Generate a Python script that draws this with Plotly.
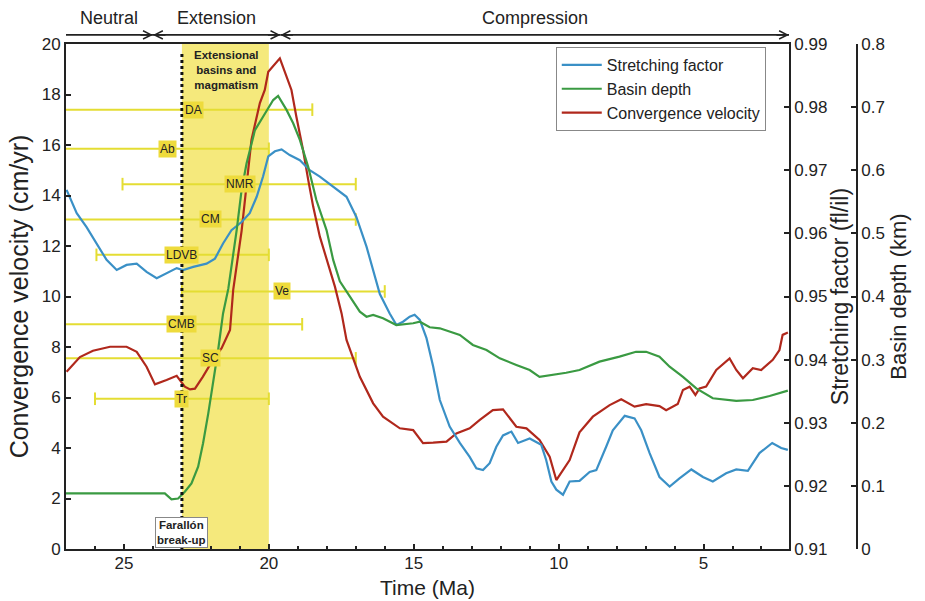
import plotly.graph_objects as go

# ---------------- data ----------------
# Stretching factor (fl/il) vs time (Ma)
sf_t = [26.98, 26.63, 26.29, 25.94, 25.60, 25.25, 24.91, 24.56, 24.22, 23.87, 23.53, 23.18, 22.96,
        22.61, 22.15, 21.86, 21.58, 21.29, 20.94, 20.66, 20.42, 20.20, 20.02, 19.79, 19.56, 19.28,
        18.93, 18.59, 18.24, 17.78, 17.32, 16.98, 16.63, 16.17, 15.83, 15.60, 15.37, 15.14, 14.97,
        14.79, 14.56, 14.33, 14.10, 13.76, 13.41, 13.07, 12.84, 12.61, 12.38, 12.15, 11.92, 11.63,
        11.40, 11.00, 10.60, 10.43, 10.25, 10.08, 9.85, 9.62, 9.28, 8.93, 8.70, 8.36, 8.13, 7.72,
        7.38, 7.15, 6.86, 6.52, 6.17, 5.83, 5.42, 5.02, 4.68, 4.22, 3.87, 3.47, 3.07, 2.63, 2.32, 2.09]
sf_v = [0.9669, 0.9632, 0.9610, 0.9584, 0.9558, 0.9542, 0.9550, 0.9552, 0.9539, 0.9529, 0.9537,
        0.9545, 0.9542, 0.9547, 0.9552, 0.9560, 0.9584, 0.9605, 0.9618, 0.9632, 0.9658, 0.9690,
        0.9722, 0.9730, 0.9733, 0.9724, 0.9716, 0.9700, 0.9690, 0.9674, 0.9658, 0.9626, 0.9579,
        0.9504, 0.9473, 0.9455, 0.9460, 0.9468, 0.9471, 0.9463, 0.9434, 0.9389, 0.9336, 0.9294,
        0.9268, 0.9246, 0.9228, 0.9225, 0.9236, 0.9262, 0.9280, 0.9286, 0.9268, 0.9275, 0.9265,
        0.9241, 0.9207, 0.9194, 0.9186, 0.9207, 0.9208, 0.9222, 0.9225, 0.9262, 0.9288, 0.9311,
        0.9307, 0.9288, 0.9252, 0.9214, 0.9199, 0.9212, 0.9226, 0.9214, 0.9207, 0.9220, 0.9226,
        0.9224, 0.9252, 0.9268, 0.9260, 0.9257]

# Basin depth (km) vs time (Ma)
bd_t = [27.00, 23.59, 23.36, 23.13, 22.90, 22.67, 22.44, 22.27, 22.09, 21.92, 21.75, 21.58, 21.40,
        21.11, 20.94, 20.77, 20.48, 20.20, 19.85, 19.68, 19.39, 19.16, 18.93, 18.64, 18.36, 18.01,
        17.78, 17.55, 17.21, 16.86, 16.63, 16.40, 16.06, 15.60, 15.02, 14.79, 14.45, 14.10, 13.41,
        12.96, 12.49, 12.03, 11.46, 11.00, 10.66, 10.20, 9.74, 9.28, 8.59, 7.90, 7.33, 6.98, 6.52,
        6.17, 5.71, 5.25, 4.68, 3.87, 3.30, 2.72, 2.09]
bd_v = [0.088, 0.088, 0.0788, 0.0800, 0.0908, 0.1040, 0.1304, 0.1676, 0.2148, 0.2624, 0.3152,
        0.3732, 0.4120, 0.5052, 0.5688, 0.6108, 0.6636, 0.6848, 0.7112, 0.7176, 0.6956, 0.6744,
        0.6480, 0.6050, 0.5528, 0.5052, 0.4580, 0.4240, 0.3996, 0.3760, 0.3680, 0.3708, 0.3656,
        0.3548, 0.3576, 0.3600, 0.3512, 0.3496, 0.3392, 0.3232, 0.3152, 0.3020, 0.2916, 0.2836,
        0.2728, 0.2756, 0.2792, 0.2836, 0.2968, 0.3048, 0.3124, 0.3124, 0.3048, 0.2888, 0.2728,
        0.2544, 0.2388, 0.2348, 0.2360, 0.2424, 0.2508]

# Convergence velocity (cm/yr) vs time (Ma)
cv_t = [26.98, 26.52, 26.07, 25.48, 24.91, 24.56, 24.22, 23.93, 23.53, 23.18, 23.07, 22.90, 22.72,
        22.55, 22.28, 21.93, 21.63, 21.34, 21.23, 20.94, 20.60, 20.31, 20.14, 20.02, 19.62, 19.39,
        19.22, 19.05, 18.82, 18.64, 18.47, 18.24, 18.01, 17.72, 17.49, 17.32, 16.86, 16.40, 16.06,
        15.48, 15.02, 14.68, 14.33, 13.87, 13.53, 13.07, 12.72, 12.27, 11.92, 11.46, 11.11, 10.66,
        10.31, 10.08, 9.62, 9.28, 8.82, 8.24, 7.84, 7.38, 6.98, 6.52, 6.29, 5.89, 5.71, 5.48, 5.28,
        5.14, 4.91, 4.56, 4.10, 3.87, 3.64, 3.30, 3.01, 2.61, 2.38, 2.27, 2.09]
cv_v = [7.02, 7.60, 7.85, 8.01, 8.01, 7.81, 7.22, 6.52, 6.69, 6.86, 6.69, 6.43, 6.32, 6.35, 6.82,
        7.49, 7.95, 8.67, 10.26, 12.60, 16.20, 17.66, 18.18, 18.90, 19.43, 18.70, 18.18, 17.12,
        15.80, 14.61, 13.56, 12.37, 11.45, 10.39, 9.33, 8.28, 6.82, 5.77, 5.24, 4.78, 4.71, 4.19,
        4.21, 4.25, 4.58, 4.78, 5.11, 5.50, 5.53, 4.84, 4.78, 4.32, 3.66, 2.73, 3.52, 4.62, 5.24,
        5.70, 5.93, 5.64, 5.74, 5.66, 5.50, 5.74, 6.30, 6.43, 6.10, 6.36, 6.43, 7.09, 7.55, 7.09,
        6.76, 7.16, 7.09, 7.49, 7.88, 8.48, 8.57]

# Horizontal age-range bars (on the convergence-velocity scale)
bar_names = ["DA", "Ab", "NMR", "CM", "LDVB", "Ve", "CMB", "SC", "Tr"]
bar_y = [17.4, 15.85, 14.45, 13.05, 11.65, 10.2, 8.9, 7.55, 5.95]
bar_start = [29.0, 29.0, 25.05, 29.0, 25.95, 23.0, 29.0, 29.0, 26.0]
bar_end = [18.5, 20.0, 17.0, 17.0, 20.0, 16.0, 18.85, 17.0, 20.0]
bar_label_x = [22.6, 23.5, 21.0, 22.0, 23.0, 19.55, 23.0, 22.0, 23.0]

# Tectonic phases (Ma)
phase_names = ["Neutral", "Extension", "Compression"]
phase_bounds = [27.0, 24.0, 19.6, 2.05]
band_range = [23.0, 20.0]
breakup_age = 23.0

x_range = [27.0, 2.05]

# ---------------- figure ----------------
FONT = "Liberation Sans, Arial, sans-serif"
BLUE = "#3a90c6"
GREEN = "#3a9a42"
RED = "#b0281c"
BARC = "#e4dd33"
LABC = "#eedb3c"
INK = "#222"

fig = go.Figure()

for name, y, s, e in zip(bar_names, bar_y, bar_start, bar_end):
    fig.add_trace(go.Scatter(
        x=[s, e], y=[y, y], mode="lines+markers", yaxis="y", showlegend=False,
        line=dict(color=BARC, width=2),
        marker=dict(symbol="line-ns-open", size=9, line=dict(color=BARC, width=2)),
        hoverinfo="skip"))

fig.add_trace(go.Scatter(x=cv_t, y=cv_v, mode="lines", name="Convergence velocity",
                         line=dict(color=RED, width=2.2), yaxis="y", legendrank=3))
fig.add_trace(go.Scatter(x=sf_t, y=sf_v, mode="lines", name="Stretching factor",
                         line=dict(color=BLUE, width=2.2), yaxis="y2", legendrank=1))
fig.add_trace(go.Scatter(x=bd_t, y=bd_v, mode="lines", name="Basin depth",
                         line=dict(color=GREEN, width=2.2), yaxis="y3", legendrank=2))

arrow_y = 1.018
shapes = [
    dict(type="rect", xref="x", yref="paper", x0=band_range[0], x1=band_range[1], y0=0, y1=1,
         fillcolor="#f5e97c", line=dict(width=0), layer="below"),
    dict(type="line", xref="x", yref="paper", x0=breakup_age, x1=breakup_age, y0=0, y1=0.985,
         line=dict(color="#111", width=3, dash="dot"), layer="above"),
]

annotations = []
for name, y, lx in zip(bar_names, bar_y, bar_label_x):
    annotations.append(dict(x=lx, y=y, xref="x", yref="y", text=name, showarrow=False,
                            font=dict(family=FONT, size=12, color=INK),
                            bgcolor=LABC, borderpad=1))

annotations.append(dict(x=sum(band_range) / 2 - 0.05, y=0.994, xref="x", yref="paper",
                        xanchor="center", yanchor="top", showarrow=False,
                        text="<b>Extensional<br>basins and<br>magmatism</b>",
                        font=dict(family=FONT, size=11.5, color=INK)))
annotations.append(dict(x=breakup_age, y=0.032, xref="x", yref="paper",
                        xanchor="center", yanchor="middle", showarrow=False,
                        text="<b>Farallón<br>break-up</b>",
                        font=dict(family=FONT, size=11.5, color=INK),
                        bgcolor="white", bordercolor="#888", borderwidth=1, borderpad=1))

# x-axis title
annotations.append(dict(x=0.5, y=-0.0755, xref="x domain", yref="paper", xanchor="center",
                        yanchor="middle", showarrow=False, text="Time (Ma)",
                        font=dict(family=FONT, size=21, color=INK)))

# phase labels, arrow lines and arrow heads
for i, name in enumerate(phase_names):
    a, b = phase_bounds[i], phase_bounds[i + 1]
    mid = (a + b) / 2
    annotations.append(dict(x=mid, y=1.052, xref="x", yref="paper", text=name, showarrow=False,
                            xanchor="center", yanchor="middle",
                            font=dict(family=FONT, size=18, color=INK)))
    shapes.append(dict(type="line", xref="x", yref="paper", x0=a, x1=b, y0=arrow_y, y1=arrow_y,
                       line=dict(color=INK, width=1.6)))
    annotations.append(dict(x=b, y=arrow_y, xref="x", yref="paper", ax=-14, ay=0,
                            axref="pixel", ayref="pixel", text="", showarrow=True,
                            arrowhead=5, arrowsize=1, arrowwidth=1.6, arrowcolor=INK))
    if i > 0:
        annotations.append(dict(x=a, y=arrow_y, xref="x", yref="paper", ax=14, ay=0,
                                axref="pixel", ayref="pixel", text="", showarrow=True,
                                arrowhead=5, arrowsize=1, arrowwidth=1.6, arrowcolor=INK))

axis_common = dict(showline=True, linecolor=INK, linewidth=1.8, ticks="inside",
                   ticklen=5, tickwidth=1.5, tickcolor=INK, showgrid=False, zeroline=False,
                   automargin=False,
                   tickfont=dict(family=FONT, size=17, color=INK))

fig.update_layout(
    width=925, height=601,
    margin=dict(l=66, r=40, t=44, b=52),
    paper_bgcolor="white", plot_bgcolor="white",
    font=dict(family=FONT, color=INK),
    xaxis=dict(domain=[0, 0.8828], range=x_range, tickvals=[25, 20, 15, 10, 5], mirror=True,
               minor=dict(dtick=1, ticks="inside", ticklen=3, tickcolor=INK),
               ticklabelstandoff=-2,
               **axis_common),
    yaxis=dict(range=[0, 20], dtick=2,
               title=dict(text="Convergence velocity (cm/yr)", font=dict(family=FONT, size=25),
                          standoff=6),
               **axis_common),
    yaxis2=dict(range=[0.91, 0.99], dtick=0.01, tickformat=".2f", overlaying="y", side="right",
                anchor="x",
                title=dict(text="Stretching factor (fl/il)", font=dict(family=FONT, size=23),
                           standoff=4),
                **axis_common),
    yaxis3=dict(range=[0, 0.8], dtick=0.1, overlaying="y", side="right", anchor="free",
                position=0.9658,
                title=dict(text="Basin depth (km)", font=dict(family=FONT, size=22), standoff=6),
                **axis_common),
    legend=dict(x=0.598, y=0.994, xanchor="left", yanchor="top", bgcolor="white",
                bordercolor="#888", borderwidth=1, traceorder="normal",
                font=dict(family=FONT, size=16, color=INK), tracegroupgap=0,
                itemwidth=40),
    shapes=shapes,
    annotations=annotations,
)

fig.write_html("out.html", config={"displayModeBar": False},
               post_script="document.body.style.margin='0';")
